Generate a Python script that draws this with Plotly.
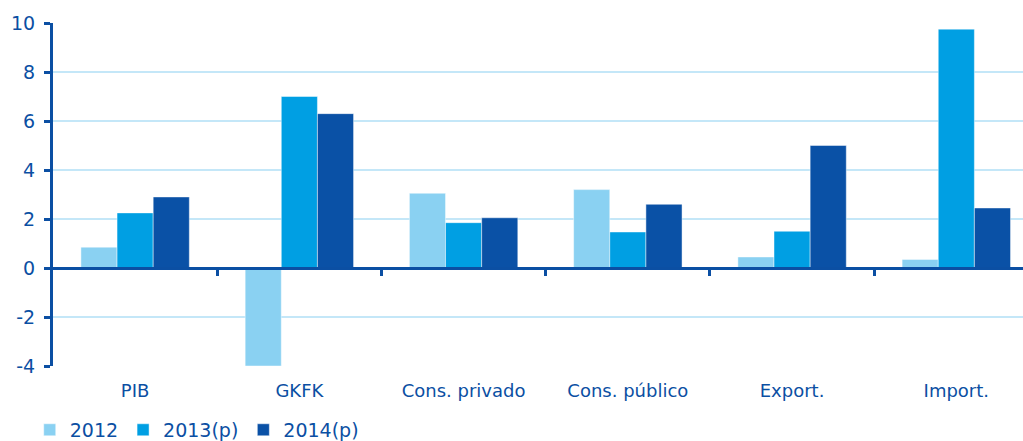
import plotly.graph_objects as go

# Components of demand, annual % change
categories = ["PIB", "GKFK", "Cons. privado", "Cons. público", "Export.", "Import."]
series_names = ["2012", "2013(p)", "2014(p)"]
values_2012 = [0.85, -4.0, 3.05, 3.2, 0.45, 0.35]
values_2013 = [2.25, 7.0, 1.85, 1.47, 1.5, 9.75]
values_2014 = [2.9, 6.3, 2.05, 2.6, 5.0, 2.45]
y_ticks = [-4, -2, 0, 2, 4, 6, 8, 10]
y_tick_labels = ["-4", "-2", "0", "2", "4", "6", "8", "10"]

colors = ["#8AD1F2", "#009FE3", "#0A51A6"]
axis_color = "#0B4FA3"
grid_color = "#C4E7F8"
font_family = "DejaVu Sans, Verdana, sans-serif"

x_pos = list(range(len(categories)))
x_range = [-0.5, 5.406]

fig = go.Figure()
for name, vals, col in zip(series_names, [values_2012, values_2013, values_2014], colors):
    fig.add_trace(go.Bar(
        x=x_pos, y=vals, name=name,
        marker=dict(color=col, line=dict(color="rgba(255,255,255,0.45)", width=1)),
    ))

# Invisible helper trace so the zero-line axis with boundary ticks is drawn
fig.add_trace(go.Scatter(x=x_range, y=[0, 0], xaxis="x2", mode="lines",
                         line=dict(width=0), showlegend=False, hoverinfo="skip"))

y_min, y_max = -4, 10
zero_pos = (0 - y_min) / (y_max - y_min)

fig.update_layout(
    width=1023, height=441,
    margin=dict(l=53, r=0, t=23, b=75, autoexpand=False),
    paper_bgcolor="white", plot_bgcolor="white",
    barmode="group", bargap=0.34, bargroupgap=0,
    font=dict(family=font_family, color=axis_color),
    xaxis=dict(
        range=x_range, tickmode="array", tickvals=x_pos, ticktext=categories,
        showgrid=False, zeroline=False, showline=False, ticks="",
        tickfont=dict(size=18, color=axis_color), ticklabelstandoff=12,
    ),
    xaxis2=dict(
        overlaying="x", anchor="free", position=zero_pos, side="bottom",
        range=x_range, tickmode="array", tickvals=[0.5, 1.5, 2.5, 3.5, 4.5],
        showticklabels=False, showgrid=False, zeroline=False,
        showline=True, linecolor=axis_color, linewidth=3,
        ticks="outside", ticklen=6, tickwidth=3, tickcolor=axis_color,
    ),
    yaxis=dict(
        range=[y_min, y_max], tickmode="array", tickvals=y_ticks, ticktext=y_tick_labels,
        showgrid=True, gridcolor=grid_color, gridwidth=1.5,
        zeroline=False, showline=True, linecolor=axis_color, linewidth=3,
        ticks="outside", ticklen=6, tickwidth=3, tickcolor=axis_color,
        tickfont=dict(size=19, color=axis_color), ticklabelstandoff=5,
    ),
    legend=dict(
        orientation="h", x=-0.024, xanchor="left",
        y=-0.131, yanchor="top",
        font=dict(size=19, color=axis_color), itemwidth=30,
        traceorder="normal", bgcolor="rgba(0,0,0,0)",
    ),
)

fig.write_html("out.html")
